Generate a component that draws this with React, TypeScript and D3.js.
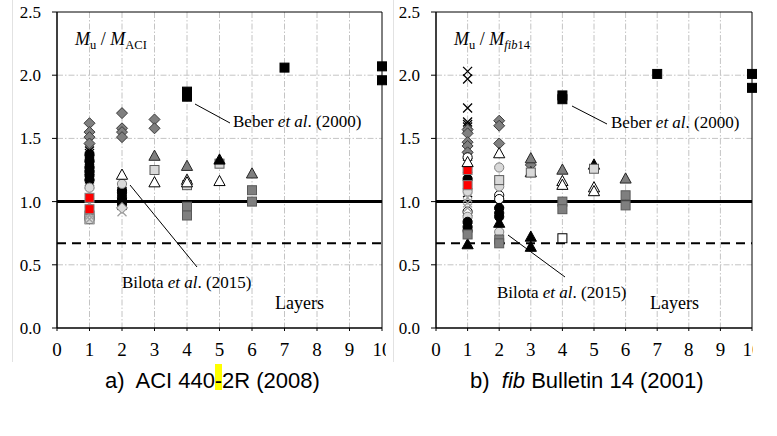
import React from "react";
import * as d3 from "d3";

type Pt = [number, number]; // [layers, Mu/Mth]

const layerTicks = [0, 1, 2, 3, 4, 5, 6, 7, 8, 9, 10];
const ratioTicks = [0, 0.5, 1.0, 1.5, 2.0, 2.5];
const safetyLine = 0.67;

// ---- ACI 440.2R (2008) ----
const aciCrossBlack: Pt[] = [
  [1, 1.42], [1, 1.4], [1, 1.38], [1, 1.36], [1, 1.35], [1, 1.33], [1, 1.31], [1, 1.3], [1, 1.28],
  [1, 1.26], [1, 1.25], [1, 1.23], [1, 1.21], [1, 1.2], [1, 1.18], [1, 1.16], [1, 1.14],
  [2, 1.11], [2, 1.08], [2, 1.05], [2, 1.02], [2, 0.99], [2, 0.97],
];
const aciDiamondGray: Pt[] = [
  [1, 1.62], [1, 1.55], [1, 1.51], [1, 1.46], [2, 1.7], [2, 1.58], [2, 1.55], [2, 1.51], [3, 1.65], [3, 1.58],
];
const aciCircleBlack: Pt[] = [
  [1, 1.37], [1, 1.32], [1, 1.27], [1, 1.24], [1, 1.21], [1, 1.17],
  [2, 1.09], [2, 1.07], [2, 1.03], [2, 1.0], [2, 0.98],
];
const aciCircleLight: Pt[] = [[1, 1.11], [2, 1.14]];
const aciCrossLight: Pt[] = [[1, 0.99], [1, 0.89], [1, 0.86], [2, 0.92]];
const aciSquareLight: Pt[] = [[1, 0.89], [1, 0.86], [3, 1.25], [4, 1.13], [5, 1.3]];
const aciSquareRed: Pt[] = [[1, 1.03], [1, 0.94]];
const aciDiamondLight: Pt[] = [[2, 0.95]];
const aciTriBlack: Pt[] = [[5, 1.33]];
const aciTriWhite: Pt[] = [[2, 1.21], [3, 1.15], [4, 1.17], [4, 1.15], [5, 1.16]];
const aciTriGray: Pt[] = [[3, 1.36], [4, 1.28], [6, 1.22]];
const aciSquareDark: Pt[] = [[4, 0.96], [4, 0.89], [6, 1.09], [6, 1.0]];
const aciSquareBlack: Pt[] = [[4, 1.87], [4, 1.83], [7, 2.06], [10, 2.07], [10, 1.96]];

// ---- fib Bulletin 14 (2001) ----
const fibCrossBlack: Pt[] = [
  [1, 2.03], [1, 1.97], [1, 1.74], [1, 1.63], [1, 1.61], [1, 1.59], [1, 1.41], [1, 1.36], [1, 1.31],
  [1, 1.2], [1, 1.07], [1, 0.86], [2, 0.97], [2, 0.92],
];
const fibDiamondGray: Pt[] = [
  [1, 1.57], [1, 1.54], [1, 1.47], [1, 1.44], [1, 1.39], [2, 1.64], [2, 1.6], [2, 1.46], [3, 1.29],
];
const fibCircleWhite: Pt[] = [[1, 1.35], [1, 0.92], [2, 1.05], [2, 1.02]];
const fibCircleLight: Pt[] = [[1, 1.08], [1, 0.88], [2, 1.27], [2, 1.12], [2, 0.76]];
const fibCrossLight: Pt[] = [[1, 1.03], [1, 0.99], [1, 0.95]];
const fibCircleBlack: Pt[] = [[1, 1.18], [1, 0.84], [1, 0.8], [1, 0.77], [2, 0.95], [2, 0.91], [2, 0.88]];
const fibSquareRed: Pt[] = [[1, 1.25], [1, 1.13]];
const fibTriBlack: Pt[] = [[1, 0.66], [2, 0.83], [3, 0.72], [3, 0.64], [5, 1.29]];
const fibSquareDark: Pt[] = [[1, 0.74], [2, 0.7], [2, 0.67], [4, 1.0], [4, 0.94], [6, 1.05], [6, 0.97]];
const fibTriWhite: Pt[] = [[1, 1.31], [2, 1.38], [3, 1.23], [4, 1.16], [4, 1.13], [5, 1.11], [5, 1.08]];
const fibSquareLight: Pt[] = [[2, 1.17], [3, 1.23], [5, 1.26]];
const fibTriGray: Pt[] = [[3, 1.34], [4, 1.25], [6, 1.18]];
const fibSquareWhite: Pt[] = [[4, 0.71]];
const fibSquareBlack: Pt[] = [[4, 1.84], [4, 1.81], [7, 2.01], [10, 2.01], [10, 1.9]];

type Kind = "square" | "diamond" | "triangle" | "circle" | "cross";
interface MarkStyle { kind: Kind; fill: string; stroke: string; }

const styles: Record<string, MarkStyle> = {
  crossBlack: { kind: "cross", fill: "none", stroke: "#000" },
  crossLight: { kind: "cross", fill: "none", stroke: "#a0a0a0" },
  diamondGray: { kind: "diamond", fill: "#7f7f7f", stroke: "#3a3a3a" },
  diamondLight: { kind: "diamond", fill: "#d9d9d9", stroke: "#7f7f7f" },
  circleBlack: { kind: "circle", fill: "#000", stroke: "#000" },
  circleLight: { kind: "circle", fill: "#d9d9d9", stroke: "#7f7f7f" },
  circleWhite: { kind: "circle", fill: "#fff", stroke: "#000" },
  squareRed: { kind: "square", fill: "#ff0000", stroke: "#7f7f7f" },
  squareLight: { kind: "square", fill: "#d9d9d9", stroke: "#595959" },
  squareDark: { kind: "square", fill: "#7f7f7f", stroke: "#595959" },
  squareBlack: { kind: "square", fill: "#000", stroke: "#000" },
  squareWhite: { kind: "square", fill: "#fff", stroke: "#000" },
  triBlack: { kind: "triangle", fill: "#000", stroke: "#000" },
  triWhite: { kind: "triangle", fill: "#fff", stroke: "#000" },
  triGray: { kind: "triangle", fill: "#7f7f7f", stroke: "#262626" },
};

const aciSeries: [string, Pt[]][] = [
  ["crossBlack", aciCrossBlack], ["diamondGray", aciDiamondGray], ["circleBlack", aciCircleBlack],
  ["squareLight", aciSquareLight], ["crossLight", aciCrossLight], ["circleLight", aciCircleLight],
  ["squareRed", aciSquareRed], ["diamondLight", aciDiamondLight], ["triBlack", aciTriBlack],
  ["triWhite", aciTriWhite], ["triGray", aciTriGray], ["squareDark", aciSquareDark],
  ["squareBlack", aciSquareBlack],
];
const fibSeries: [string, Pt[]][] = [
  ["crossBlack", fibCrossBlack], ["diamondGray", fibDiamondGray], ["circleWhite", fibCircleWhite],
  ["circleLight", fibCircleLight], ["crossLight", fibCrossLight], ["circleBlack", fibCircleBlack],
  ["squareRed", fibSquareRed], ["triBlack", fibTriBlack], ["squareDark", fibSquareDark],
  ["triWhite", fibTriWhite], ["squareLight", fibSquareLight], ["triGray", fibTriGray],
  ["squareWhite", fibSquareWhite], ["squareBlack", fibSquareBlack],
];

const serif = "'Liberation Serif', 'Times New Roman', serif";
const sans = "'Liberation Sans', Arial, sans-serif";

const Marker: React.FC<{ st: MarkStyle; x: number; y: number }> = ({ st, x, y }) => {
  const p = { fill: st.fill, stroke: st.stroke, strokeWidth: 1 };
  if (st.kind === "square") return <rect x={x - 4.5} y={y - 4.5} width={9} height={9} {...p} />;
  if (st.kind === "circle") return <circle cx={x} cy={y} r={4.6} {...p} />;
  if (st.kind === "diamond")
    return <polygon points={`${x},${y - 5.5} ${x + 5.5},${y} ${x},${y + 5.5} ${x - 5.5},${y}`} {...p} />;
  if (st.kind === "triangle")
    return <polygon points={`${x},${y - 6} ${x + 5.6},${y + 4.2} ${x - 5.6},${y + 4.2}`} {...p} />;
  return (
    <path d={`M${x - 4.5},${y - 4.5}L${x + 4.5},${y + 4.5}M${x - 4.5},${y + 4.5}L${x + 4.5},${y - 4.5}`}
      stroke={st.stroke} strokeWidth={1.3} fill="none" />
  );
};

interface PanelProps {
  id: string;
  x0: number; x1: number; clipRight: number;
  series: [string, Pt[]][];
  sub: React.ReactNode;
  beber: { from: Pt; to: Pt; tx: number; ty: number };
  bilota: { from: Pt; to: Pt; tx: number; ty: number };
  layersX: number;
}

const top = 12, bottom = 328;

const Panel: React.FC<PanelProps> = ({ id, x0, x1, clipRight, series, sub, beber, bilota, layersX }) => {
  const x = d3.scaleLinear().domain([0, 10]).range([x0, x1]);
  const y = d3.scaleLinear().domain([0, 2.5]).range([bottom, top]);
  const grid = "#c4c4c4";
  return (
    <g>
      <defs>
        <clipPath id={id}>
          <rect x={x0 - 30} y={bottom} width={clipRight - x0 + 30} height={40} />
        </clipPath>
      </defs>
      {layerTicks.slice(1, -1).map(t => (
        <line key={"gx" + t} x1={x(t)} x2={x(t)} y1={top} y2={bottom} stroke={grid} strokeDasharray="6,2,1.5,2" />
      ))}
      {ratioTicks.filter(t => t > 0 && t < 2.5 && t !== 1).map(t => (
        <line key={"gy" + t} x1={x0} x2={x1} y1={y(t)} y2={y(t)} stroke={grid} strokeDasharray="6,2,1.5,2" />
      ))}
      <line x1={x0} x2={x1} y1={y(1)} y2={y(1)} stroke="#000" strokeWidth={3} />
      <line x1={x0} x2={x1} y1={y(safetyLine)} y2={y(safetyLine)} stroke="#000" strokeWidth={2} strokeDasharray="9,6" />
      <line x1={x0} x2={x1} y1={top} y2={top} stroke="#000" />
      <line x1={x0} x2={x0} y1={top} y2={bottom} stroke="#000" strokeWidth={1.5} />
      <line x1={x1} x2={x1} y1={top} y2={bottom} stroke="#000" />
      <line x1={x0} x2={x1} y1={bottom} y2={bottom} stroke="#000" strokeWidth={1.5} />
      {ratioTicks.map(t => (
        <g key={"ty" + t}>
          <line x1={x0 - 5} x2={x0} y1={y(t)} y2={y(t)} stroke="#000" />
          <text x={x0 - 16} y={y(t) + 6} textAnchor="end" fontFamily={serif} fontSize={17}>{t.toFixed(1)}</text>
        </g>
      ))}
      <g clipPath={`url(#${id})`}>
        {layerTicks.map(t => (
          <g key={"tx" + t}>
            <line x1={x(t)} x2={x(t)} y1={bottom - 3} y2={bottom + 3} stroke="#000" />
            <text x={x(t)} y={356} textAnchor="middle" fontFamily={serif} fontSize={19}>{t}</text>
          </g>
        ))}
      </g>
      {series.map(([name, pts]) =>
        pts.map((d, i) => <Marker key={name + i} st={styles[name]} x={x(d[0])} y={y(d[1])} />)
      )}
      <text x={x0 + 18} y={45} fontFamily={serif} fontSize={18}>
        <tspan fontStyle="italic">M</tspan>
        <tspan fontSize={12.5} dy={4}>u</tspan>
        <tspan dy={-4}> / </tspan>
        <tspan fontStyle="italic">M</tspan>
        {sub}
      </text>
      <line x1={beber.from[0]} y1={beber.from[1]} x2={beber.to[0]} y2={beber.to[1]} stroke="#000" />
      <text x={beber.tx} y={beber.ty} fontFamily={serif} fontSize={17}>
        Beber <tspan fontStyle="italic">et al</tspan>. (2000)
      </text>
      <line x1={bilota.from[0]} y1={bilota.from[1]} x2={bilota.to[0]} y2={bilota.to[1]} stroke="#000" />
      <text x={bilota.tx} y={bilota.ty} fontFamily={serif} fontSize={17}>
        Bilota <tspan fontStyle="italic">et al</tspan>. (2015)
      </text>
      <text x={layersX} y={309} fontFamily={serif} fontSize={18}>Layers</text>
    </g>
  );
};

export default function App() {
  return (
    <svg width={777} height={436} style={{ position: "absolute", left: 0, top: 0, background: "#fff" }}>
      <rect width={777} height={436} fill="#fff" />
      <line x1={12.5} x2={12.5} y1={0} y2={362} stroke="#e2e2e2" />
      <line x1={393.5} x2={393.5} y1={0} y2={362} stroke="#e2e2e2" />
      <Panel
        id="clipA" x0={57} x1={382} clipRight={386} series={aciSeries}
        sub={<tspan fontSize={12.5} dy={4}>ACI</tspan>}
        beber={{ from: [195, 104], to: [230, 123], tx: 233, ty: 127 }}
        bilota={{ from: [130, 185], to: [197, 267], tx: 122, ty: 288 }}
        layersX={275}
      />
      <Panel
        id="clipB" x0={436} x1={752} clipRight={753} series={fibSeries}
        sub={<tspan fontSize={12.5} dy={4}><tspan fontStyle="italic">fib</tspan>14</tspan>}
        beber={{ from: [572, 106], to: [607, 124], tx: 611, ty: 128 }}
        bilota={{ from: [508, 235], to: [565, 277], tx: 497, ty: 298 }}
        layersX={650}
      />
      <rect x={215} y={364} width={7} height={26} fill="#ffff00" />
      <text x={215} y={388} textAnchor="end" fontFamily={sans} fontSize={22} style={{ whiteSpace: "pre" }}>a)  ACI 440</text>
      <text x={218.5} y={388} textAnchor="middle" fontFamily={sans} fontSize={22}>-</text>
      <text x={222} y={388} fontFamily={sans} fontSize={22}>2R (2008)</text>
      <text x={470} y={388} fontFamily={sans} fontSize={22} style={{ whiteSpace: "pre" }}>
        b)  <tspan fontStyle="italic">fib</tspan> Bulletin 14 (2001)
      </text>
    </svg>
  );
}
